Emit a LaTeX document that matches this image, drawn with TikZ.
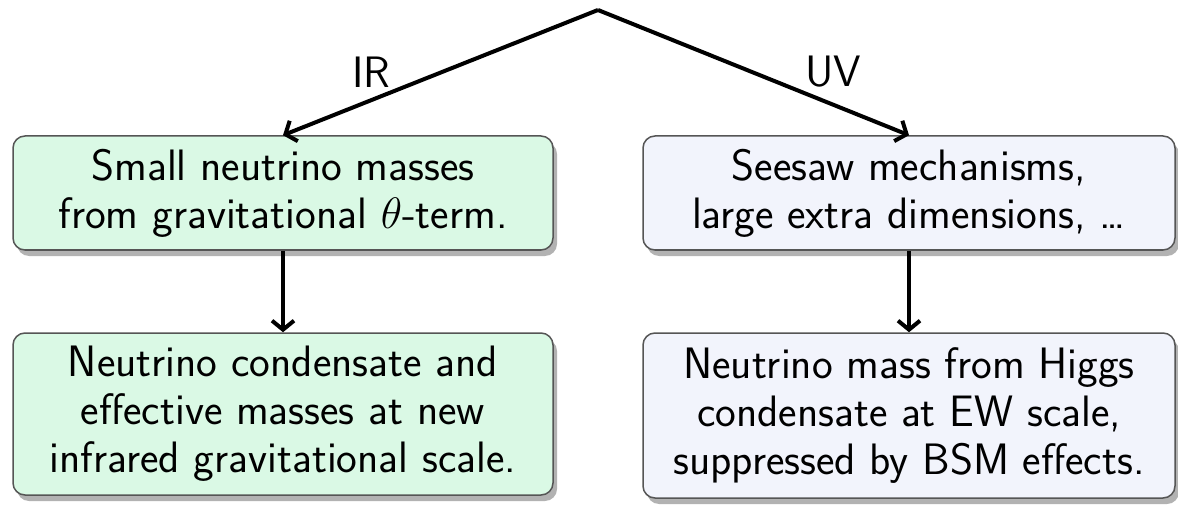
\RequirePackage{fix-cm}
\documentclass[tikz,border=0pt]{standalone}
\usepackage{fontspec}
\usetikzlibrary{arrows.meta,shadows}
\definecolor{boxgreen}{RGB}{218,249,229}
\definecolor{boxblue}{RGB}{242,244,252}
\definecolor{boxline}{RGB}{85,85,85}
\begin{document}
\begin{tikzpicture}[x=1pt,y=-1pt,
  every node/.style={font=\fontsize{44}{48}\selectfont\sffamily},
  box/.style={draw=boxline, line width=1.5pt, rounded corners=12pt, align=center, inner sep=0pt,
    general shadow={fill=black!30, shadow xshift=4pt, shadow yshift=-6pt}},
  arr/.style={line width=4pt, -{Straight Barb[length=9pt,width=22pt]}},
  lbl/.style={inner sep=0pt}]
\useasboundingbox (0,0) rectangle (1178,505);
\node[box, fill=boxgreen, minimum width=540pt, minimum height=114pt] (tl) at (283,193)
  {Small neutrino masses\\from gravitational $\theta$-term.};
\node[box, fill=boxblue, minimum width=532pt, minimum height=114pt] (tr) at (909,193)
  {Seesaw mechanisms,\\large extra dimensions, \dots};
\node[box, fill=boxgreen, minimum width=540pt, minimum height=162pt] (bl) at (283,414)
  {Neutrino condensate and\\effective masses at new\\infrared gravitational scale.};
\node[box, fill=boxblue, minimum width=532pt, minimum height=165pt] (br) at (909,415.5)
  {Neutrino mass from Higgs\\condensate at EW scale,\\suppressed by BSM effects.};
\coordinate (top) at (598,10);
\draw[arr] (top) -- node[lbl, pos=0.72, above=11pt] {IR} (tl.north);
\draw[arr] (top) -- node[lbl, pos=0.756, above=15pt] {UV} (tr.north);
\draw[arr] (tl.south) -- (bl.north);
\draw[arr] (tr.south) -- (br.north);
\end{tikzpicture}
\end{document}
